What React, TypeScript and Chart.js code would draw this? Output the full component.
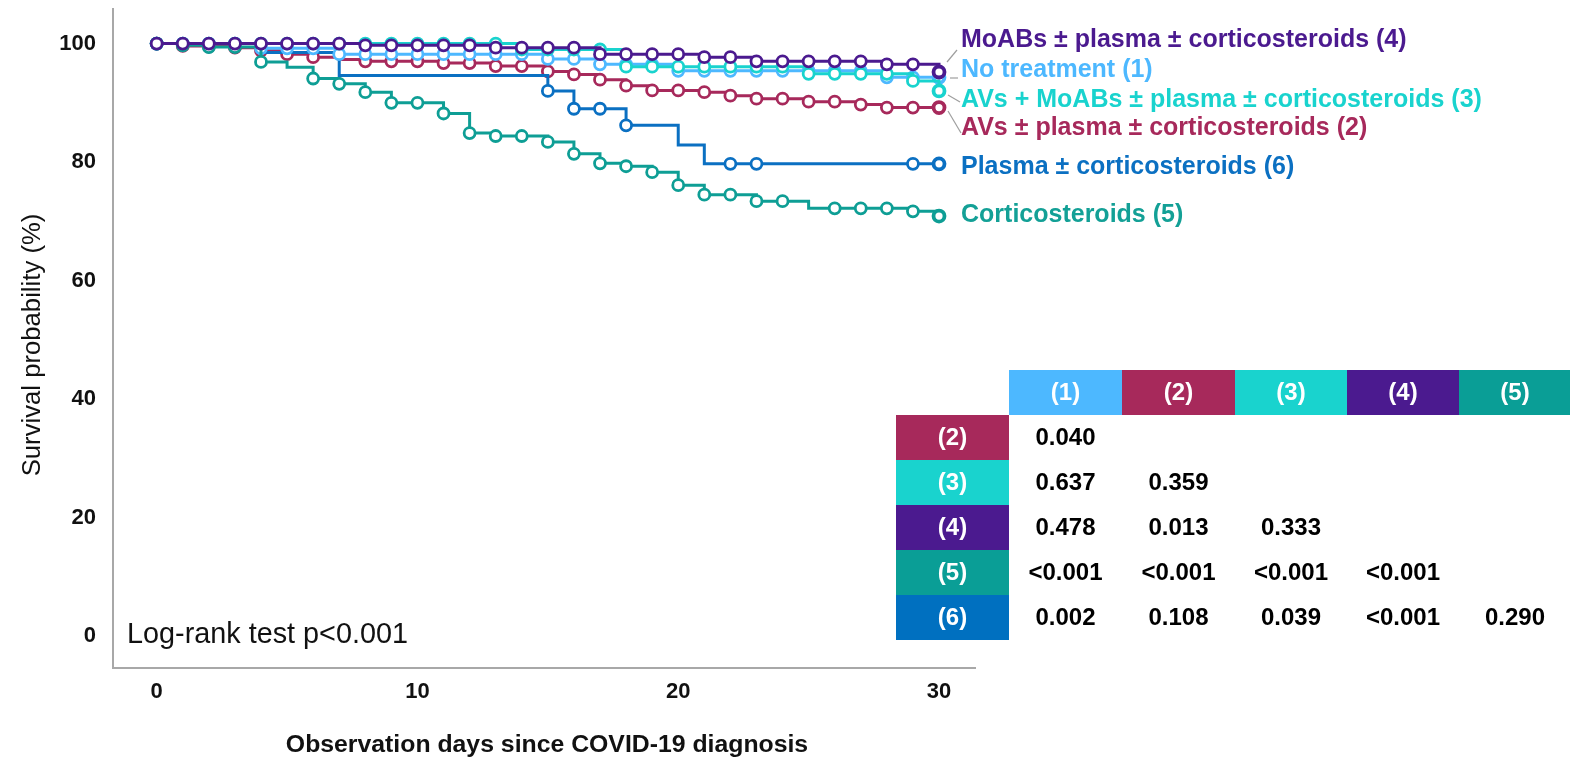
import React, { useEffect, useRef } from "react";
import { Chart, registerables } from "chart.js";

Chart.register(...registerables);

// ---------- data ----------
const days = [0, 1, 2, 3, 4, 5, 6, 7, 8, 9, 10, 11, 12, 13, 14, 15, 16, 17, 18, 19, 20, 21, 22, 23, 24, 25, 26, 27, 28, 29, 30];

// (1) No treatment
const noTreatment = [100, 100, 100, 100, 99.2, 99.2, 99.2, 98.2, 98.2, 98.2, 98.2, 98.2, 98.2, 98.2, 98.2, 97.4, 97.4, 96.5, 96.5, 96.5, 95.4, 95.4, 95.4, 95.4, 95.4, 95.4, 95.4, 95.4, 94.3, 94.3, 94.3];
// (2) AVs ± plasma ± corticosteroids
const avs = [100, 99.6, 99.5, 99.3, 98.8, 98.2, 97.7, 97.3, 97.0, 97.0, 97.0, 96.7, 96.7, 96.2, 96.2, 95.3, 94.8, 93.9, 92.9, 92.1, 92.1, 91.8, 91.2, 90.7, 90.7, 90.2, 90.2, 89.7, 89.2, 89.2, 89.2];
// (3) AVs + MoABs ± plasma ± corticosteroids
const avsMoabs = [100, 100, 100, 100, 100, 100, 100, 100, 100, 100, 100, 100, 100, 100, 99.0, 99.0, 99.0, 99.0, 96.1, 96.1, 96.1, 96.1, 96.1, 96.1, 96.1, 94.9, 94.9, 94.9, 94.9, 93.7, 92.0];
// (4) MoABs ± plasma ± corticosteroids
const moabs = [100, 100, 100, 100, 100, 100, 100, 100, 99.7, 99.7, 99.7, 99.7, 99.7, 99.3, 99.3, 99.3, 99.3, 98.2, 98.2, 98.2, 98.2, 97.7, 97.7, 97.0, 97.0, 97.0, 97.0, 97.0, 96.5, 96.5, 95.2];
// (5) Corticosteroids
const corticosteroids = [100, 99.7, 99.4, 99.4, 96.9, 96.0, 94.1, 93.2, 91.8, 90.0, 90.0, 88.2, 84.9, 84.4, 84.4, 83.4, 81.4, 79.8, 79.3, 78.3, 76.1, 74.5, 74.5, 73.4, 73.4, 72.2, 72.2, 72.2, 72.2, 71.7, 70.9];
// (6) Plasma ± corticosteroids
const plasma = [100, 100, 100, 100, 98.5, 98.5, 98.5, 94.6, 94.6, 94.6, 94.6, 94.6, 94.6, 94.6, 94.6, 92.0, 89.0, 89.0, 86.2, 86.2, 82.9, 79.7, 79.7, 79.7, 79.7, 79.7, 79.7, 79.7, 79.7, 79.7, 79.7];

// censoring marks (1 = mark drawn at that day)
const noTreatmentMarks = [1, 1, 1, 1, 1, 1, 1, 1, 1, 1, 1, 1, 1, 1, 1, 1, 1, 1, 1, 1, 1, 1, 1, 1, 1, 1, 1, 1, 1, 1, 1];
const avsMarks = [1, 1, 1, 1, 1, 1, 1, 0, 1, 1, 1, 1, 1, 1, 1, 1, 1, 1, 1, 1, 1, 1, 1, 1, 1, 1, 1, 1, 1, 1, 1];
const avsMoabsMarks = [1, 1, 1, 1, 1, 1, 1, 1, 1, 1, 1, 1, 1, 1, 1, 1, 1, 1, 1, 1, 1, 1, 1, 1, 1, 1, 1, 1, 1, 1, 1];
const moabsMarks = [1, 1, 1, 1, 1, 1, 1, 1, 1, 1, 1, 1, 1, 1, 1, 1, 1, 1, 1, 1, 1, 1, 1, 1, 1, 1, 1, 1, 1, 1, 1];
const corticosteroidsMarks = [1, 1, 1, 1, 1, 0, 1, 1, 1, 1, 1, 1, 1, 1, 1, 1, 1, 1, 1, 1, 1, 1, 1, 1, 1, 0, 1, 1, 1, 1, 1];
const plasmaMarks = [1, 0, 0, 0, 0, 0, 0, 0, 0, 0, 0, 0, 0, 0, 0, 1, 1, 1, 1, 0, 0, 0, 1, 1, 0, 0, 0, 0, 0, 1, 1];

const seriesNames = [
  "MoABs ± plasma ± corticosteroids (4)",
  "No treatment (1)",
  "AVs + MoABs ± plasma ± corticosteroids (3)",
  "AVs ± plasma ± corticosteroids (2)",
  "Plasma ± corticosteroids (6)",
  "Corticosteroids (5)",
];

const xTicks = [0, 10, 20, 30];
const yTicks = [0, 20, 40, 60, 80, 100];

const xTitle = "Observation days since COVID-19 diagnosis";
const yTitle = "Survival probability (%)";
const logRankText = "Log-rank test p<0.001";

const tableCols = ["(1)", "(2)", "(3)", "(4)", "(5)"];
const tableRows = ["(2)", "(3)", "(4)", "(5)", "(6)"];
const pRow2 = ["0.040"];
const pRow3 = ["0.637", "0.359"];
const pRow4 = ["0.478", "0.013", "0.333"];
const pRow5 = ["<0.001", "<0.001", "<0.001", "<0.001"];
const pRow6 = ["0.002", "0.108", "0.039", "<0.001", "0.290"];

// ---------- styles ----------
const C1 = "#4DB8FF";
const C2 = "#A7295B";
const C3 = "#19D3CE";
const C4 = "#4B1A8F";
const C5 = "#0E9E95";
const C6 = "#0B70C2";
const FONT = '"Liberation Sans", Arial, sans-serif';

function makeSet(label: string, vals: number[], marks: number[], color: string, order: number) {
  return {
    label,
    data: days.map((d, i) => ({ x: d, y: vals[i] })),
    borderColor: color,
    backgroundColor: color,
    borderWidth: 3,
    stepped: true,
    fill: false,
    order,
    pointStyle: "circle",
    pointRadius: marks.map((m) => (m ? 5.5 : 0)),
    pointBorderWidth: marks.map((m, i) => (i === marks.length - 1 ? 3.8 : 2.8)),
    pointBackgroundColor: "#ffffff",
    pointBorderColor: color,
  };
}

const overlayPlugin = {
  id: "overlay",
  afterDraw(chart: any) {
    const ctx = chart.ctx as CanvasRenderingContext2D;
    ctx.save();

    // y title
    ctx.save();
    ctx.translate(33, 345);
    ctx.rotate(-Math.PI / 2);
    ctx.font = `25.7px ${FONT}`;
    ctx.fillStyle = "#111";
    ctx.textAlign = "center";
    ctx.textBaseline = "middle";
    ctx.fillText(yTitle, 0, 0);
    ctx.restore();

    // x title
    ctx.font = `bold 24.8px ${FONT}`;
    ctx.fillStyle = "#111";
    ctx.textAlign = "center";
    ctx.textBaseline = "alphabetic";
    ctx.fillText(xTitle, 547, 752);

    // log-rank
    ctx.font = `28.8px ${FONT}`;
    ctx.textAlign = "left";
    ctx.fillText(logRankText, 127, 643);

    // right labels with leader lines
    const labelColors = [C4, C1, C3, C2, C6, "#13A096"];
    const labelY = [40, 70, 100, 128, 167, 215];
    ctx.font = `bold 25px ${FONT}`;
    ctx.textBaseline = "middle";
    seriesNames.forEach((name, i) => {
      ctx.fillStyle = labelColors[i];
      ctx.fillText(name, 961, labelY[i]);
    });
    ctx.strokeStyle = "#9E9E9E";
    ctx.lineWidth = 1.2;
    const leaders = [
      [947, 62, 957, 50],
      [950, 78, 958, 78],
      [948, 95, 960, 102],
      [948, 111, 961, 133],
    ];
    leaders.forEach(([a, b, c, d]) => {
      ctx.beginPath();
      ctx.moveTo(a, b);
      ctx.lineTo(c, d);
      ctx.stroke();
    });

    // table
    const colColors = [C1, C2, C3, C4, "#0A9E96"];
    const rowColors = [C2, C3, C4, "#0A9E96", "#0070C0"];
    const colX = [1009, 1122, 1235, 1347, 1459, 1571];
    const rowHeadX0 = 896;
    const rowYs = [370, 415, 460, 505, 550, 595, 640];
    ctx.font = `bold 24px ${FONT}`;
    ctx.textAlign = "center";
    ctx.textBaseline = "middle";
    tableCols.forEach((t, j) => {
      ctx.fillStyle = colColors[j];
      ctx.fillRect(colX[j], rowYs[0], colX[j + 1] - colX[j], rowYs[1] - rowYs[0]);
      ctx.fillStyle = "#ffffff";
      ctx.fillText(t, (colX[j] + colX[j + 1]) / 2, (rowYs[0] + rowYs[1]) / 2 + 1);
    });
    const pRows = [pRow2, pRow3, pRow4, pRow5, pRow6];
    tableRows.forEach((t, i) => {
      const y0 = rowYs[i + 1];
      const y1 = rowYs[i + 2];
      ctx.fillStyle = rowColors[i];
      ctx.fillRect(rowHeadX0, y0, colX[0] - rowHeadX0, y1 - y0);
      ctx.fillStyle = "#ffffff";
      ctx.fillText(t, (rowHeadX0 + colX[0]) / 2, (y0 + y1) / 2 + 1);
      ctx.fillStyle = "#000000";
      pRows[i].forEach((v, j) => {
        ctx.fillText(v, (colX[j] + colX[j + 1]) / 2, (y0 + y1) / 2 + 1);
      });
    });

    ctx.restore();
  },
};

export default function App() {
  const ref = useRef<HTMLCanvasElement | null>(null);

  useEffect(() => {
    if (!ref.current) return;
    const chart = new Chart(ref.current, {
      type: "line",
      data: {
        datasets: [
          makeSet(seriesNames[0], moabs, moabsMarks, C4, 0),
          makeSet(seriesNames[5], corticosteroids, corticosteroidsMarks, C5, 1),
          makeSet(seriesNames[2], avsMoabs, avsMoabsMarks, C3, 2),
          makeSet(seriesNames[1], noTreatment, noTreatmentMarks, C1, 3),
          makeSet(seriesNames[4], plasma, plasmaMarks, C6, 4),
          makeSet(seriesNames[3], avs, avsMarks, C2, 5),
        ] as any,
      },
      options: {
        responsive: false,
        animation: false,
        devicePixelRatio: 1,
        layout: { padding: { top: 5, right: 595, left: 0, bottom: 0 } },
        plugins: {
          legend: { display: false },
          tooltip: { enabled: false },
        },
        events: [],
        scales: {
          x: {
            type: "linear",
            min: -1.675,
            max: 31.38,
            grid: { display: false, drawTicks: false },
            border: { display: true, color: "#A8A8A8", width: 2 },
            ticks: {
              padding: 11,
              color: "#111",
              font: { family: FONT, size: 22, weight: "bold" },
            },
            afterBuildTicks: (s: any) => {
              s.ticks = xTicks.map((v) => ({ value: v }));
            },
            afterFit: (s: any) => {
              s.height = 89;
              s.paddingLeft = 0;
              s.paddingRight = 0;
            },
          },
          y: {
            type: "linear",
            min: -5.36,
            max: 105.78,
            grid: { display: false, drawTicks: false },
            border: { display: true, color: "#A8A8A8", width: 2 },
            ticks: {
              padding: 17,
              color: "#111",
              font: { family: FONT, size: 22, weight: "bold" },
            },
            afterBuildTicks: (s: any) => {
              s.ticks = yTicks.map((v) => ({ value: v }));
            },
            afterFit: (s: any) => {
              s.width = 113;
              s.paddingTop = 0;
              s.paddingBottom = 0;
            },
          },
        },
      } as any,
      plugins: [overlayPlugin],
    });
    return () => chart.destroy();
  }, []);

  return (
    <div style={{ position: "absolute", left: 0, top: 0, width: 1570, height: 757, background: "#fff" }}>
      <canvas ref={ref} width={1570} height={757} style={{ display: "block" }} />
    </div>
  );
}
